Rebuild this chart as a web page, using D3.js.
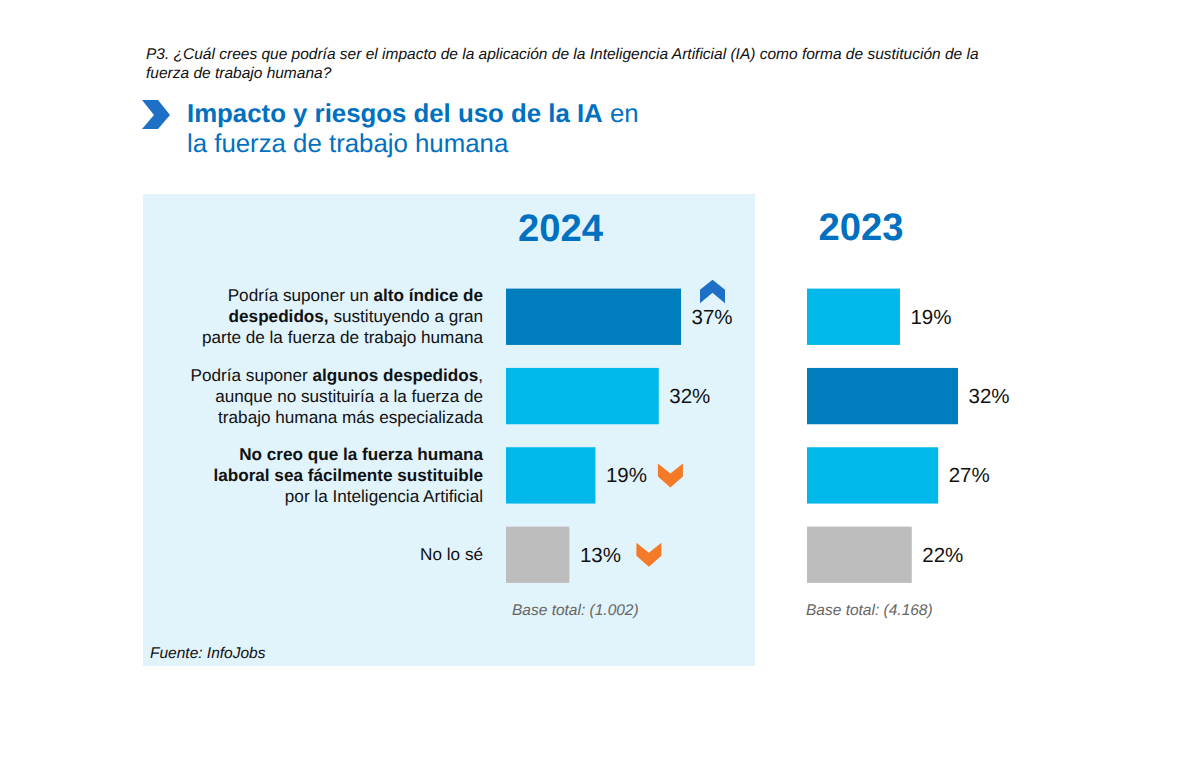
<!DOCTYPE html>
<html>
<head>
<meta charset="utf-8">
<script src="https://cdn.jsdelivr.net/npm/d3@7"></script>
<style>
html, body { margin: 0; padding: 0; background: #fff; }
text { font-family: "Liberation Sans", Arial, sans-serif; text-rendering: geometricPrecision; }
</style>
</head>
<body>
<svg id="chart" width="1200" height="767"></svg>
<script>
var categories = ['alto', 'algunos', 'nocreo', 'nose'];
// printed percentages
var labels2024 = [37, 32, 19, 13];
var labels2023 = [19, 32, 27, 22];
// bar lengths as drawn in the picture, a bit off from the printed numbers
var values2024 = [37, 32.3, 18.9, 13.4];
var values2023 = [19.7, 32, 27.8, 22.2];
var fills2024 = ['#007dbc', '#00b8e9', '#00b8e9', '#bdbdbd'];
var fills2023 = ['#00b8e9', '#007dbc', '#00b8e9', '#bdbdbd'];
var trend2024 = ['up', null, 'down', 'down'];
var labelLines = [
    [[['Podría suponer un ', 0], ['alto índice de', 1]], [['despedidos, ', 1], ['sustituyendo a gran', 0]], [['parte de la fuerza de trabajo humana', 0]]],
    [[['Podría suponer ', 0], ['algunos despedidos', 1], [',', 0]], [['aunque no sustituiría a la fuerza de', 0]], [['trabajo humana más especializada', 0]]],
    [[['No creo que la fuerza humana', 1]], [['laboral sea fácilmente sustituible', 1]], [['por la Inteligencia Artificial', 0]]],
    [[['No lo sé', 0]]]
];

var blue = '#0070c0';
var svg = d3.select('#chart');

var y = d3.scaleBand().domain(categories).range([277.5, 594]).paddingInner(0.29).paddingOuter(0.14);
var x2024 = d3.scaleLinear().domain([0, 37]).range([506, 681]);
var x2023 = d3.scaleLinear().domain([0, 32]).range([807, 958]);

svg.append('rect').attr('x', 143).attr('y', 194).attr('width', 612).attr('height', 472).attr('fill', '#e1f3fb');

// question
svg.append('text').attr('x', 146).attr('y', 59).attr('font-size', 15.5).attr('font-style', 'italic').attr('fill', '#111')
    .text('P3. ¿Cuál crees que podría ser el impacto de la aplicación de la Inteligencia Artificial (IA) como forma de sustitución de la');
svg.append('text').attr('x', 146).attr('y', 78).attr('font-size', 15.5).attr('font-style', 'italic').attr('fill', '#111')
    .text('fuerza de trabajo humana?');

// title
svg.append('path').attr('d', 'M142,100 L158,100 L170,115 L158,129 L142,129 L154,115 Z').attr('fill', '#1e6fc6');
var title = svg.append('text').attr('x', 187).attr('y', 122).attr('font-size', 25.8).attr('fill', blue);
title.append('tspan').attr('font-weight', 'bold').text('Impacto y riesgos del uso de la IA');
title.append('tspan').text(' en');
svg.append('text').attr('x', 187).attr('y', 152).attr('font-size', 25.8).attr('fill', blue).text('la fuerza de trabajo humana');

// years
svg.append('text').attr('x', 560.5).attr('y', 241).attr('text-anchor', 'middle').attr('font-size', 38.2).attr('font-weight', 'bold').attr('fill', blue).text('2024');
svg.append('text').attr('x', 861).attr('y', 240).attr('text-anchor', 'middle').attr('font-size', 38.2).attr('font-weight', 'bold').attr('fill', blue).text('2023');

// category labels
categories.forEach(function (c, i) {
    var lines = labelLines[i];
    var mid = y(c) + y.bandwidth() / 2;
    lines.forEach(function (line, j) {
        var t = svg.append('text').attr('x', 483)
            .attr('y', mid + 5.5 + (j - (lines.length - 1) / 2) * 21)
            .attr('text-anchor', 'end').attr('font-size', 17.15).attr('fill', '#111');
        line.forEach(function (part) {
            t.append('tspan').attr('font-weight', part[1] ? 'bold' : 'normal').text(part[0]);
        });
    });
});

function drawBars(values, labels, fills, xs) {
    var g = svg.append('g');
    g.selectAll('rect').data(values).enter().append('rect')
        .attr('x', xs(0))
        .attr('y', function (d, i) { return y(categories[i]); })
        .attr('width', function (d) { return xs(d) - xs(0); })
        .attr('height', y.bandwidth())
        .attr('fill', function (d, i) { return fills[i]; });
    g.selectAll('text').data(values).enter().append('text')
        .attr('x', function (d) { return xs(d) + 10.5; })
        .attr('y', function (d, i) { return y(categories[i]) + y.bandwidth() / 2 + 7; })
        .attr('font-size', 20.5).attr('fill', '#111')
        .text(function (d, i) { return labels[i] + '%'; });
}
drawBars(values2024, labels2024, fills2024, x2024);
drawBars(values2023, labels2023, fills2023, x2023);

// trend chevrons
var chevronOffset = [31.5, 0, 75, 79.5];
trend2024.forEach(function (tr, i) {
    if (!tr) return;
    var cy = y(categories[i]) + y.bandwidth() / 2;
    var cx = x2024(values2024[i]) + chevronOffset[i];
    if (tr === 'up') {
        svg.append('path').attr('transform', 'translate(' + cx + ',' + (cy - 25) + ')')
            .attr('d', 'M-12.5,-2 L0,-12 L12.5,-2 L12.5,11.5 L0,1 L-12.5,11.5 Z').attr('fill', '#1e6fc6');
    } else {
        svg.append('path').attr('transform', 'translate(' + cx + ',' + cy + ')')
            .attr('d', 'M-12.5,-12 L0,-2 L12.5,-12 L12.5,1 L0,12 L-12.5,1 Z').attr('fill', '#f47a28');
    }
});

// bases and source
svg.append('text').attr('x', 512).attr('y', 615).attr('font-size', 15.5).attr('font-style', 'italic').attr('fill', '#666').text('Base total: (1.002)');
svg.append('text').attr('x', 806).attr('y', 615).attr('font-size', 15.5).attr('font-style', 'italic').attr('fill', '#666').text('Base total: (4.168)');
svg.append('text').attr('x', 150).attr('y', 658).attr('font-size', 15.5).attr('font-style', 'italic').attr('fill', '#111').text('Fuente: InfoJobs');
</script>
</body>
</html>
